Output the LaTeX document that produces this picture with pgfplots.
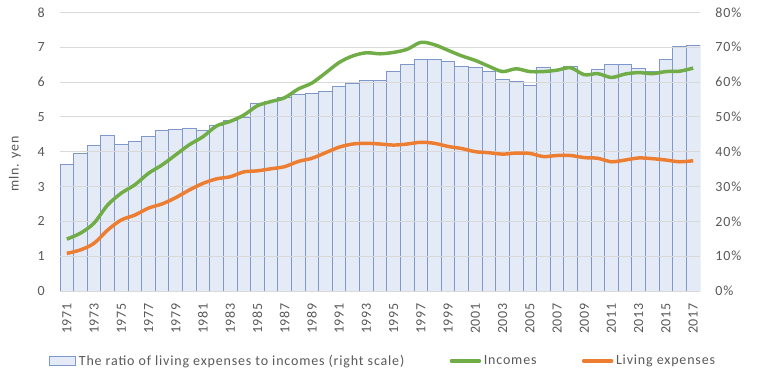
\documentclass[border=0pt]{standalone}
\usepackage{pgfplots}
\usepackage{pgfplotstable}
\pgfplotsset{compat=1.18}
\usepackage{fontspec}
\setmainfont{Carlito}[LetterSpace=6]
\definecolor{txt}{HTML}{595959}
\definecolor{gridc}{HTML}{D9D9D9}
\definecolor{barfill}{HTML}{E4EAF6}
\definecolor{baredge}{HTML}{7E98CB}
\definecolor{inc}{HTML}{70AD47}
\definecolor{expc}{HTML}{ED7D31}
\pgfplotsset{
  linelegend/.style={legend image code/.code={\draw[##1, line width=2.6pt, line cap=round] (0pt,0pt) -- (21pt,0pt);}},
  boxlegend/.style={legend image code/.code={\draw[##1] (0pt,-3.4pt) rectangle (19.5pt,3.4pt);}},
}

\pgfplotstableread{
year ratio income expense
1971 36.4 1.49 1.08
1972 39.6 1.66 1.18
1973 41.9 1.95 1.37
1974 44.7 2.47 1.75
1975 42.2 2.81 2.04
1976 43.0 3.05 2.18
1977 44.5 3.38 2.38
1978 46.2 3.62 2.50
1979 46.5 3.91 2.68
1980 46.8 4.20 2.90
1981 46.2 4.43 3.09
1982 47.6 4.74 3.22
1983 49.1 4.87 3.28
1984 49.9 5.05 3.42
1985 53.7 5.32 3.45
1986 54.4 5.44 3.51
1987 55.7 5.55 3.57
1988 56.5 5.80 3.72
1989 56.8 5.97 3.81
1990 57.4 6.26 3.97
1991 58.8 6.56 4.13
1992 59.7 6.75 4.22
1993 60.5 6.84 4.24
1994 60.5 6.81 4.22
1995 63.1 6.85 4.19
1996 64.9 6.94 4.22
1997 66.6 7.14 4.27
1998 66.6 7.07 4.24
1999 66.0 6.91 4.15
2000 64.6 6.75 4.09
2001 64.3 6.62 4.00
2002 63.1 6.45 3.97
2003 60.8 6.30 3.93
2004 60.3 6.38 3.96
2005 59.1 6.30 3.95
2006 64.3 6.30 3.86
2007 63.7 6.34 3.89
2008 64.6 6.41 3.89
2009 62.5 6.21 3.83
2010 63.7 6.24 3.81
2011 65.1 6.13 3.71
2012 65.1 6.23 3.76
2013 64.0 6.27 3.82
2014 63.0 6.24 3.80
2015 66.6 6.30 3.76
2016 70.3 6.31 3.71
2017 70.6 6.40 3.74
}\data

\begin{document}
\begin{tikzpicture}[font=\fontsize{10.5}{12.5}\selectfont]
\begin{axis}[
  at={(45pt,-218.25pt)}, anchor=south west,
  scale only axis, width=480pt, height=209pt,
  xmin=1970.5, xmax=2017.5, ymin=0, ymax=80,
  ybar, bar width=1,
  axis on top,
  axis line style={draw=none},
  major tick length=0pt,
  ymajorgrids, grid style={gridc, line width=0.75pt},
  ytick={0,10,...,80},
  yticklabel pos=right,
  yticklabel={\pgfmathprintnumber{\tick}\%},
  yticklabel shift=8pt,
  xtick={1971,1973,...,2017},
  xticklabel shift=5.5pt,
  xticklabel style={rotate=90, anchor=east, /pgf/number format/1000 sep=},
  tick label style={text=txt, font=\fontsize{10.5}{12.5}\selectfont},
  /pgf/number format/assume math mode=true,
]
\addplot[fill=barfill, draw=baredge, line width=0.7pt] table[x=year,y=ratio]{\data};
\end{axis}
\begin{axis}[
  at={(45pt,-218.25pt)}, anchor=south west,
  scale only axis, width=480pt, height=209pt,
  xmin=1970.5, xmax=2017.5, ymin=0, ymax=8,
  axis line style={draw=none},
  major tick length=0pt,
  xtick=\empty,
  ytick={0,1,...,8},
  yticklabel shift=8pt,
  tick label style={text=txt, font=\fontsize{10.5}{12.5}\selectfont},
  /pgf/number format/assume math mode=true,
  ylabel={mln. yen},
  ylabel style={at={(axis description cs:-0.0703,0.455)}, anchor=center, text=txt},
  legend columns=3,
  legend style={at={(0.5055,-0.251)}, anchor=center, draw=none, fill=none,
    text=txt, font=\fontsize{10.5}{12.5}\selectfont,
    /tikz/every even column/.append style={column sep=32pt},
    inner sep=0pt},
]
\addlegendimage{fill=barfill, draw=baredge, line width=0.7pt, boxlegend}
\addlegendentry{The ratio of living expenses to incomes (right scale)}
\addplot[inc, line width=2.6pt, smooth, no markers, linelegend]
  table[x=year,y=income]{\data};
\addlegendentry{Incomes}
\addplot[expc, line width=2.6pt, smooth, no markers, linelegend]
  table[x=year,y=expense]{\data};
\addlegendentry{Living expenses}
\end{axis}
\pgfresetboundingbox
\path[use as bounding box] (0pt,0pt) rectangle (569.25pt,-285pt);
\end{tikzpicture}
\end{document}
